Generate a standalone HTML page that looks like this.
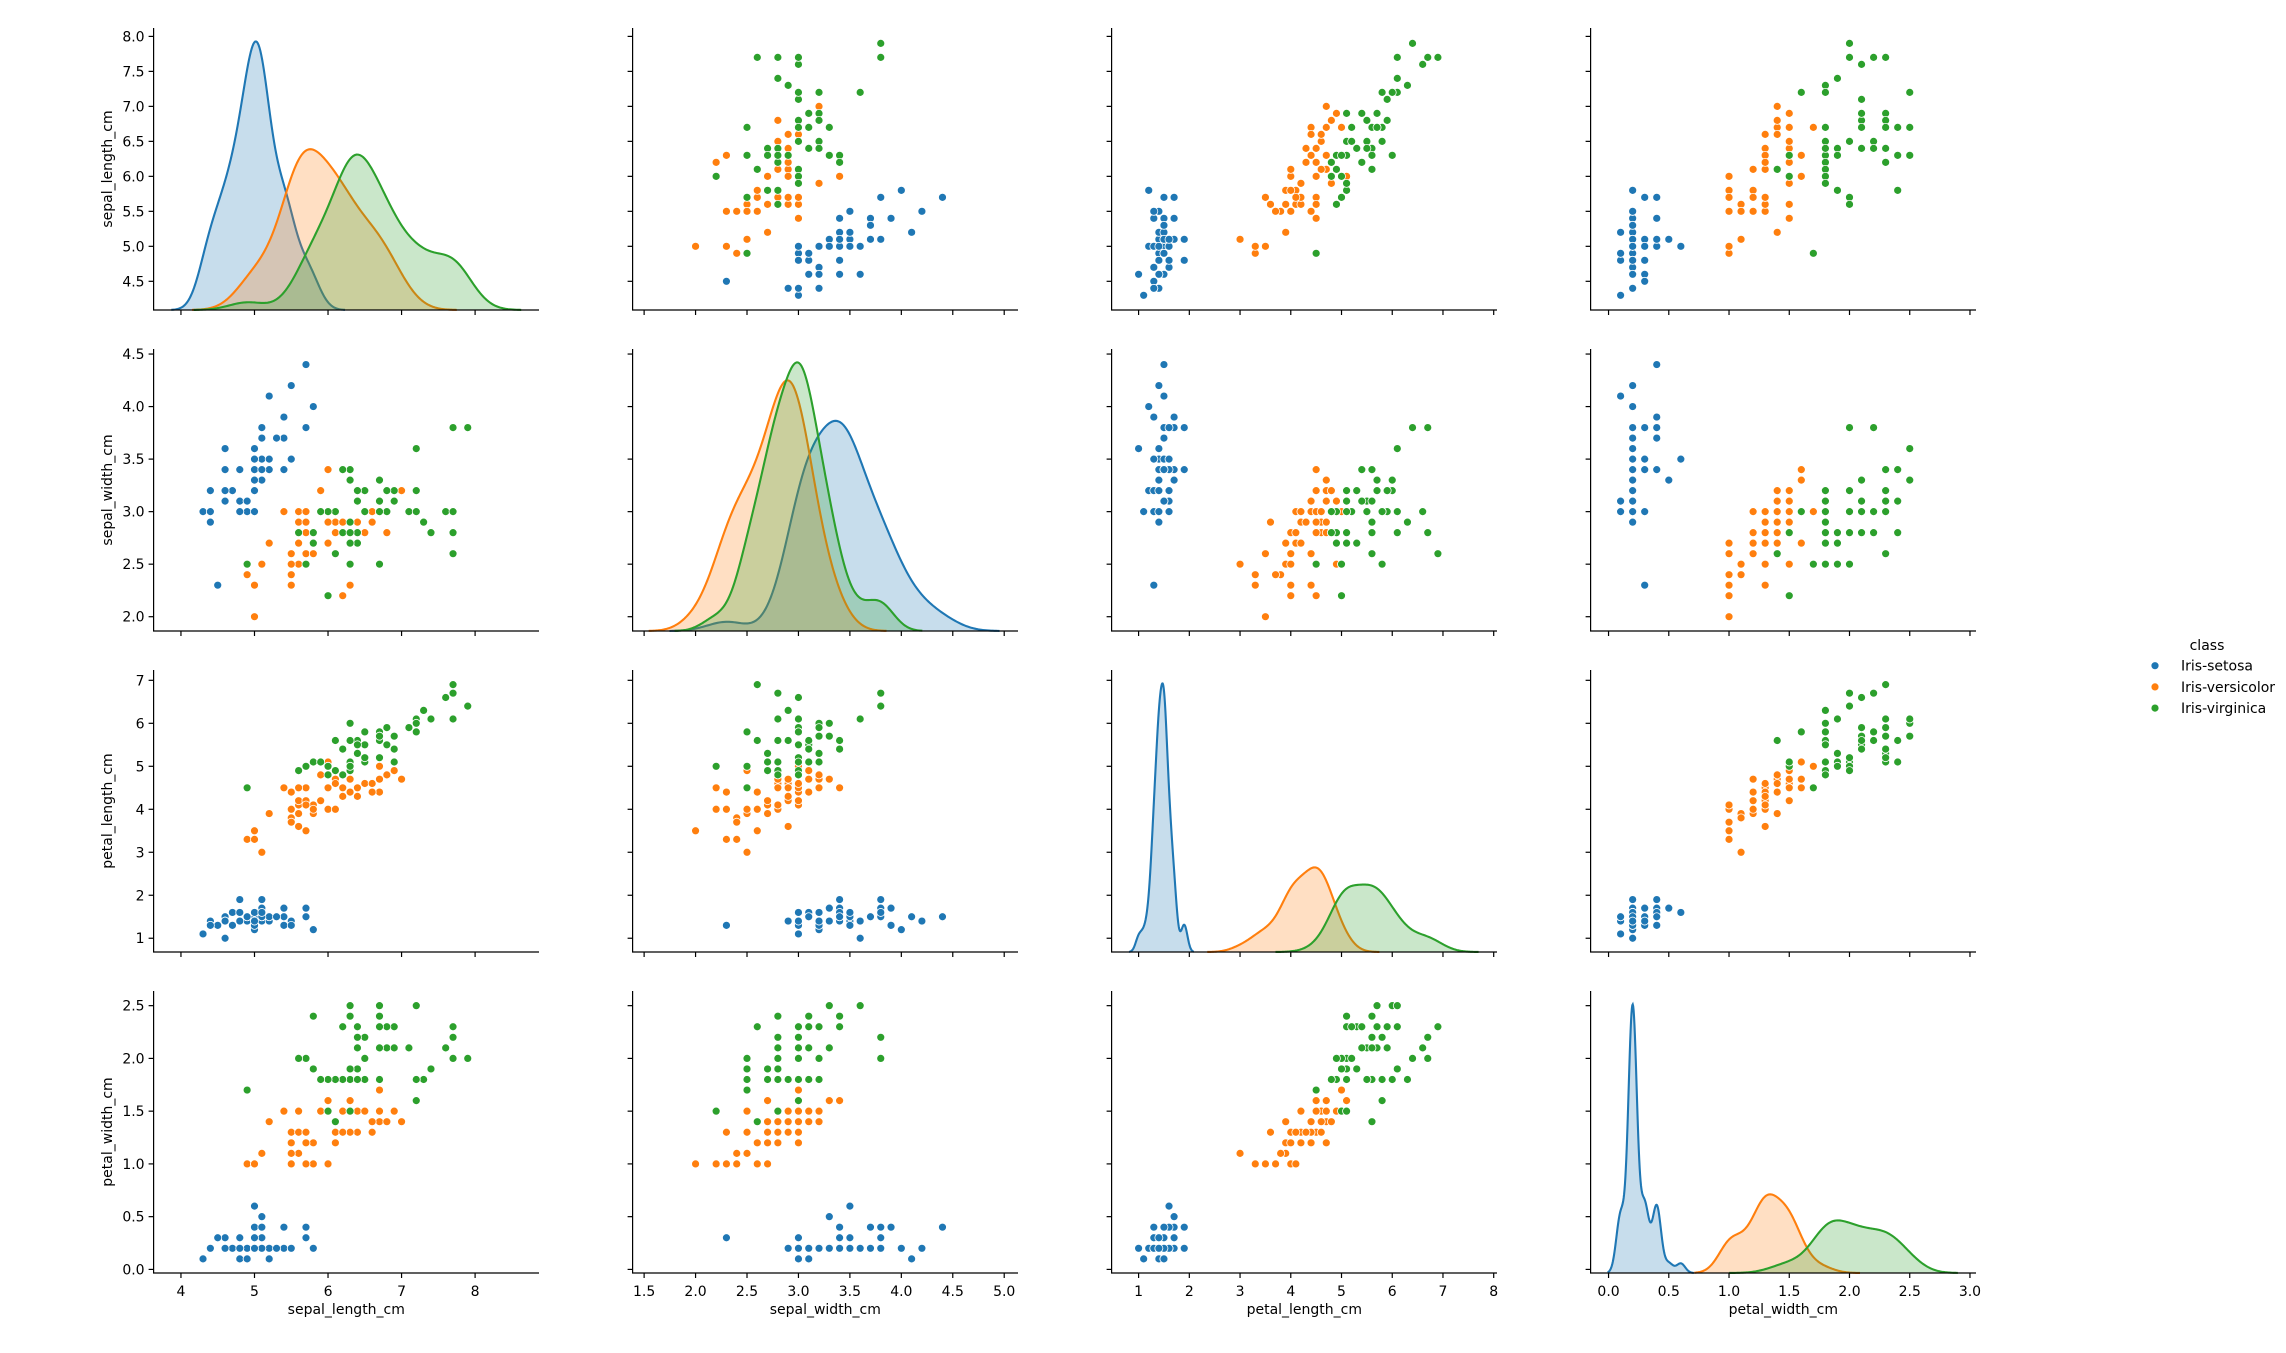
<!DOCTYPE html>
<html><head><meta charset="utf-8"><style>
html,body{margin:0;padding:0;background:#fff;}
svg{display:block;font-family:"DejaVu Sans","Liberation Sans",sans-serif;}
</style></head><body>
<svg id="chart" width="2286" height="1353" viewBox="0 0 2286 1353" xmlns="http://www.w3.org/2000/svg"></svg>
<script>
const variables = ["sepal_length_cm","sepal_width_cm","petal_length_cm","petal_width_cm"];
const classNames = ["Iris-setosa","Iris-versicolor","Iris-virginica"];
const sepalLength = [5.1,4.9,4.7,4.6,5.0,5.4,4.6,5.0,4.4,4.9,5.4,4.8,4.8,4.3,5.8,5.7,5.4,5.1,5.7,5.1,5.4,5.1,4.6,5.1,4.8,5.0,5.0,5.2,5.2,4.7,4.8,5.4,5.2,5.5,4.9,5.0,5.5,4.9,4.4,5.1,5.0,4.5,4.4,5.0,5.1,4.8,5.1,4.6,5.3,5.0,
7.0,6.4,6.9,5.5,6.5,5.7,6.3,4.9,6.6,5.2,5.0,5.9,6.0,6.1,5.6,6.7,5.6,5.8,6.2,5.6,5.9,6.1,6.3,6.1,6.4,6.6,6.8,6.7,6.0,5.7,5.5,5.5,5.8,6.0,5.4,6.0,6.7,6.3,5.6,5.5,5.5,6.1,5.8,5.0,5.6,5.7,5.7,6.2,5.1,5.7,
6.3,5.8,7.1,6.3,6.5,7.6,4.9,7.3,6.7,7.2,6.5,6.4,6.8,5.7,5.8,6.4,6.5,7.7,7.7,6.0,6.9,5.6,7.7,6.3,6.7,7.2,6.2,6.1,6.4,7.2,7.4,7.9,6.4,6.3,6.1,7.7,6.3,6.4,6.0,6.9,6.7,6.9,5.8,6.8,6.7,6.7,6.3,6.5,6.2,5.9];
const sepalWidth = [3.5,3.0,3.2,3.1,3.6,3.9,3.4,3.4,2.9,3.1,3.7,3.4,3.0,3.0,4.0,4.4,3.9,3.5,3.8,3.8,3.4,3.7,3.6,3.3,3.4,3.0,3.4,3.5,3.4,3.2,3.1,3.4,4.1,4.2,3.1,3.2,3.5,3.1,3.0,3.4,3.5,2.3,3.2,3.5,3.8,3.0,3.8,3.2,3.7,3.3,
3.2,3.2,3.1,2.3,2.8,2.8,3.3,2.4,2.9,2.7,2.0,3.0,2.2,2.9,2.9,3.1,3.0,2.7,2.2,2.5,3.2,2.8,2.5,2.8,2.9,3.0,2.8,3.0,2.9,2.6,2.4,2.4,2.7,2.7,3.0,3.4,3.1,2.3,3.0,2.5,2.6,3.0,2.6,2.3,2.7,3.0,2.9,2.9,2.5,2.8,
3.3,2.7,3.0,2.9,3.0,3.0,2.5,2.9,2.5,3.6,3.2,2.7,3.0,2.5,2.8,3.2,3.0,3.8,2.6,2.2,3.2,2.8,2.8,2.7,3.3,3.2,2.8,3.0,2.8,3.0,2.8,3.8,2.8,2.8,2.6,3.0,3.4,3.1,3.0,3.1,3.1,3.1,2.7,3.2,3.3,3.0,2.5,3.0,3.4,3.0];
const petalLength = [1.4,1.4,1.3,1.5,1.4,1.7,1.4,1.5,1.4,1.5,1.5,1.6,1.4,1.1,1.2,1.5,1.3,1.4,1.7,1.5,1.7,1.5,1.0,1.7,1.9,1.6,1.6,1.5,1.4,1.6,1.6,1.5,1.5,1.4,1.5,1.2,1.3,1.5,1.3,1.5,1.3,1.3,1.3,1.6,1.9,1.4,1.6,1.4,1.5,1.4,
4.7,4.5,4.9,4.0,4.6,4.5,4.7,3.3,4.6,3.9,3.5,4.2,4.0,4.7,3.6,4.4,4.5,4.1,4.5,3.9,4.8,4.0,4.9,4.7,4.3,4.4,4.8,5.0,4.5,3.5,3.8,3.7,3.9,5.1,4.5,4.5,4.7,4.4,4.1,4.0,4.4,4.6,4.0,3.3,4.2,4.2,4.2,4.3,3.0,4.1,
6.0,5.1,5.9,5.6,5.8,6.6,4.5,6.3,5.8,6.1,5.1,5.3,5.5,5.0,5.1,5.3,5.5,6.7,6.9,5.0,5.7,4.9,6.7,4.9,5.7,6.0,4.8,4.9,5.6,5.8,6.1,6.4,5.6,5.1,5.6,6.1,5.6,5.5,4.8,5.4,5.6,5.1,5.1,5.9,5.7,5.2,5.0,5.2,5.4,5.1];
const petalWidth = [0.2,0.2,0.2,0.2,0.2,0.4,0.3,0.2,0.2,0.1,0.2,0.2,0.1,0.1,0.2,0.4,0.4,0.3,0.3,0.3,0.2,0.4,0.2,0.5,0.2,0.2,0.4,0.2,0.2,0.2,0.2,0.4,0.1,0.2,0.1,0.2,0.2,0.1,0.2,0.2,0.3,0.3,0.2,0.6,0.4,0.3,0.2,0.2,0.2,0.2,
1.4,1.5,1.5,1.3,1.5,1.3,1.6,1.0,1.3,1.4,1.0,1.5,1.0,1.4,1.3,1.4,1.5,1.0,1.5,1.1,1.8,1.3,1.5,1.2,1.3,1.4,1.4,1.7,1.5,1.0,1.1,1.0,1.2,1.6,1.5,1.6,1.5,1.3,1.3,1.3,1.2,1.4,1.2,1.0,1.3,1.2,1.3,1.3,1.1,1.3,
2.5,1.9,2.1,1.8,2.2,2.1,1.7,1.8,1.8,2.5,2.0,1.9,2.1,2.0,2.4,2.3,1.8,2.2,2.3,1.5,2.3,2.0,2.0,1.8,2.1,1.8,1.8,1.8,2.1,1.6,1.9,2.0,2.2,1.5,1.4,2.3,2.4,1.8,1.8,2.1,2.4,2.3,1.9,2.3,2.5,2.3,1.9,2.0,2.3,1.8];
const species = [0,0,0,0,0,0,0,0,0,0,0,0,0,0,0,0,0,0,0,0,0,0,0,0,0,0,0,0,0,0,0,0,0,0,0,0,0,0,0,0,0,0,0,0,0,0,0,0,0,0,
1,1,1,1,1,1,1,1,1,1,1,1,1,1,1,1,1,1,1,1,1,1,1,1,1,1,1,1,1,1,1,1,1,1,1,1,1,1,1,1,1,1,1,1,1,1,1,1,1,1,
2,2,2,2,2,2,2,2,2,2,2,2,2,2,2,2,2,2,2,2,2,2,2,2,2,2,2,2,2,2,2,2,2,2,2,2,2,2,2,2,2,2,2,2,2,2,2,2,2,2];
const xTicks = [[4,5,6,7,8],[1.5,2.0,2.5,3.0,3.5,4.0,4.5,5.0],[1,2,3,4,5,6,7,8],[0.0,0.5,1.0,1.5,2.0,2.5,3.0]];
const yTicks = [[4.5,5.0,5.5,6.0,6.5,7.0,7.5,8.0],[2.0,2.5,3.0,3.5,4.0,4.5],[1,2,3,4,5,6,7],[0.0,0.5,1.0,1.5,2.0,2.5]];
const tickDecimals = [0,1,0,1];
const yTickDecimals = [1,1,0,1];
const axisLimits = [[3.628,8.869],[1.388,5.134],[0.468,8.065],[-0.149,3.05]];
const rowLimits = [[4.09,8.12],[1.864,4.548],[0.68,7.24],[-0.034,2.639]];

const colors = ["#1f77b4","#ff7f0e","#2ca02c"];
const cols = [sepalLength,sepalWidth,petalLength,petalWidth];
const colLeft = [153.6,632.6,1111.6,1590.6], W = 385.4;
const rowTop = [28,349,670,991], H = 282;
const NS = "http://www.w3.org/2000/svg";
const svg = document.getElementById('chart');
function mk(tag, attrs, parent){const e=document.createElementNS(NS,tag);for(const k in attrs)e.setAttribute(k,attrs[k]);(parent||svg).appendChild(e);return e;}
function xScale(c,v){const l=axisLimits[c];return colLeft[c]+(v-l[0])/(l[1]-l[0])*W;}
function yScale(r,v){const l=rowLimits[r];return rowTop[r]+H-(v-l[0])/(l[1]-l[0])*H;}

function kde(vals){
  const n=vals.length, m=vals.reduce((a,b)=>a+b,0)/n;
  const sd=Math.sqrt(vals.reduce((a,b)=>a+(b-m)*(b-m),0)/(n-1));
  const s=[...vals].sort((a,b)=>a-b);
  const q=p=>{const i=(n-1)*p,lo=Math.floor(i),hi=Math.ceil(i);return s[lo]+(s[hi]-s[lo])*(i-lo);};
  const iqr=(q(0.75)-q(0.25))/1.349;
  const A=Math.min(sd,iqr>0?iqr:sd);
  const bw=1.059*A*Math.pow(n,-0.2);
  const lo=s[0]-3*bw, hi=s[n-1]+3*bw, pts=[];
  for(let i=0;i<200;i++){const x=lo+(hi-lo)*i/199;let d=0;for(const v of vals){const z=(x-v)/bw;d+=Math.exp(-0.5*z*z);}pts.push([x,d/(n*bw*Math.sqrt(2*Math.PI))]);}
  return pts;
}

for(let r=0;r<4;r++){
  for(let c=0;c<4;c++){
    const g=mk('g',{});
    
    
    const L=colLeft[c], T=rowTop[r];
    if(r===c){
      const curves=[0,1,2].map(k=>kde(cols[c].filter((v,i)=>species[i]===k)));
      let ymax=0;curves.forEach(cv=>cv.forEach(p=>{if(p[1]>ymax)ymax=p[1];}));
      ymax*=1.05;
      curves.forEach((cv,k)=>{
        const pts=cv.map(p=>[xScale(c,p[0]),T+H-p[1]/ymax*H]);
        const line=pts.map((p,i)=>(i?'L':'M')+p[0].toFixed(2)+','+p[1].toFixed(2)).join('');
        const fill=mk('path',{d:line+'L'+pts[pts.length-1][0].toFixed(2)+','+(T+H)+'L'+pts[0][0].toFixed(2)+','+(T+H)+'Z',fill:colors[k],'fill-opacity':0.25,stroke:'none'},g);
        
        
        const ln=mk('path',{d:line,fill:'none',stroke:colors[k],'stroke-width':2.1},g);
        
        
      });
    } else {
      for(let k=0;k<3;k++){
        for(let i=0;i<150;i++){
          if(species[i]!==k)continue;
          const pt=mk('circle',{cx:xScale(c,cols[c][i]).toFixed(2),cy:yScale(r,cols[r][i]).toFixed(2),r:4,fill:colors[k],stroke:'#fff','stroke-width':0.8},g);
          
          
        }
      }
    }
    // spines
    const sp=mk('path',{d:`M${L},${T}L${L},${T+H}L${L+W},${T+H}`,fill:'none',stroke:'#000','stroke-width':1.2},g);
    
    
    xTicks[c].forEach(v=>{
      const x=xScale(c,v);
      mk('line',{x1:x,x2:x,y1:T+H,y2:T+H+5,stroke:'#000','stroke-width':1.2},g);
      if(r===3){
        const t=mk('text',{x:x,y:T+H+23,'text-anchor':'middle','font-size':14,fill:'#000'},g);
        t.textContent=v.toFixed(tickDecimals[c]);
        
        
      }
    });
    yTicks[r].forEach(v=>{
      const y=yScale(r,v);
      mk('line',{x1:L-5,x2:L,y1:y,y2:y,stroke:'#000','stroke-width':1.2},g);
      if(c===0){
        const t=mk('text',{x:L-9,y:y+5,'text-anchor':'end','font-size':14,fill:'#000'},g);
        t.textContent=v.toFixed(yTickDecimals[r]);
        
        
      }
    });
    if(r===3){
      const t=mk('text',{x:L+W/2,y:1314,'text-anchor':'middle','font-size':14,fill:'#000'},g);
      t.textContent=variables[c];
      
      
    }
    if(c===0){
      const cy=T+H/2;
      const t=mk('text',{x:112,y:cy,'text-anchor':'middle','font-size':14,fill:'#000',transform:`rotate(-90 112 ${cy})`},g);
      t.textContent=variables[r];
      
      
    }
  }
}
// legend
const lg=mk('g',{});


const lt=mk('text',{x:2207,y:650,'text-anchor':'middle','font-size':14,fill:'#000'},lg);
lt.textContent='class';


classNames.forEach((nm,k)=>{
  const y=665.7+k*21.2;
  const e=mk('g',{},lg);
  
  
  mk('circle',{cx:2155,cy:y,r:4,fill:colors[k],stroke:'#fff','stroke-width':0.8},e);
  const t=mk('text',{x:2181,y:y+5,'font-size':14,fill:'#000'},e);
  t.textContent=nm;
});
</script>
</body></html>
